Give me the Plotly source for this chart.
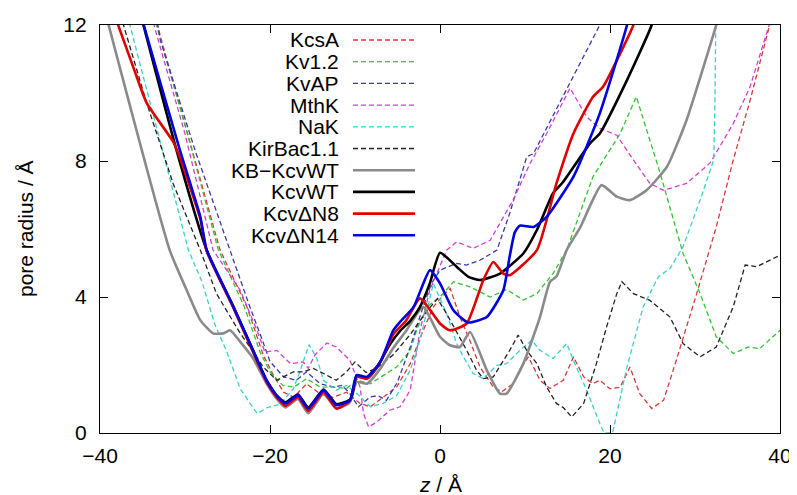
import plotly.graph_objects as go

# ---------------- data (z in Å, pore radius in Å) ----------------
kcsa_z = [-33.6, -29.5, -25.9, -22.7, -20.8, -19.6, -18.4, -17.2, -15.7, -14.1, -12.6, -11.0, -9.4, -8.2, -6.7, -5.1, -3.5, -2.0, -0.8, 0.2, 1.2, 2.35, 3.5, 4.7, 6.27, 7.25, 8.6, 9.5, 10.4, 11.76, 12.94, 14.5, 15.7, 16.9, 18.0, 18.8, 20.0, 21.2, 22.35, 23.5, 24.9, 26.3, 27.8, 30.2, 32.5, 34.5, 36.5, 38.8, 39.1]
kcsa_r = [12.3, 8.6, 5.4, 3.7, 2.3, 1.7, 1.2, 1.05, 1.45, 1.15, 1.05, 1.2, 0.87, 0.77, 1.06, 1.35, 2.04, 3.0, 3.7, 4.0, 4.25, 3.41, 2.73, 1.94, 1.35, 1.21, 1.45, 1.9, 2.24, 1.55, 1.31, 1.55, 2.24, 1.65, 1.45, 1.55, 1.3, 1.35, 1.94, 1.16, 0.72, 0.96, 2.14, 4.1, 6.06, 8.03, 9.8, 12.0, 12.3]

kv12_z = [-33.7, -29.6, -26.1, -23.0, -21.2, -20.0, -18.5, -17.2, -15.7, -14.1, -12.6, -11.0, -9.8, -8.2, -6.3, -5.1, -3.5, -2.75, -1.6, 0.0, 1.6, 3.53, 5.9, 7.84, 9.8, 11.4, 13.3, 14.9, 18.0, 21.2, 23.1, 25.9, 28.6, 30.6, 32.5, 34.5, 36.3, 37.6, 40.0]
kv12_r = [12.3, 8.7, 5.4, 3.7, 2.4, 1.8, 1.4, 1.35, 1.6, 1.35, 1.35, 1.31, 1.55, 1.45, 1.75, 1.94, 2.43, 3.02, 3.7, 4.0, 4.45, 4.3, 4.0, 4.22, 3.91, 4.1, 4.69, 5.38, 7.54, 8.81, 9.89, 7.64, 5.28, 4.1, 2.83, 2.34, 2.53, 2.48, 3.02]

kvap_z = [-33.4, -32.9, -28.8, -24.7, -22.5, -21.0, -20.0, -18.4, -16.9, -15.7, -14.1, -12.55, -11.5, -10.6, -9.6, -8.2, -7.3, -6.3, -5.0, -3.5, -2.0, -1.0, 0.0, 1.96, 3.1, 4.7, 6.7, 8.2, 10.2, 11.0, 18.8, 19.1]
kvap_r = [12.3, 11.55, 8.3, 5.38, 3.8, 2.8, 2.1, 1.65, 1.55, 1.8, 1.45, 1.35, 1.4, 1.16, 0.77, 1.06, 1.1, 0.96, 1.5, 2.53, 3.7, 4.4, 4.79, 4.99, 4.94, 5.08, 5.38, 6.46, 8.12, 8.22, 12.0, 12.3]

mthk_z = [-34.0, -30.0, -26.7, -23.5, -21.5, -20.6, -19.2, -17.6, -16.1, -15.5, -14.7, -13.3, -12.2, -10.6, -9.4, -9.0, -8.4, -7.45, -5.9, -4.7, -3.5, -2.35, -1.2, 0.0, 0.78, 1.96, 3.9, 5.9, 8.6, 10.6, 12.55, 15.3, 17.25, 18.8, 20.8, 22.75, 24.7, 26.3, 29.0, 31.8, 34.5, 36.5, 38.8, 39.1]
mthk_r = [12.3, 8.8, 5.38, 4.2, 3.0, 2.38, 2.43, 2.04, 2.09, 1.9, 2.3, 2.65, 2.53, 2.14, 1.35, 0.57, 0.18, 0.32, 0.67, 0.77, 1.26, 3.02, 4.2, 4.89, 5.38, 5.62, 5.43, 5.67, 6.85, 7.93, 8.81, 10.14, 9.3, 8.96, 8.76, 8.03, 7.34, 7.14, 7.34, 7.95, 9.1, 10.2, 12.0, 12.3]

nak_z = [-36.8, -29.6, -28.0, -26.5, -25.1, -23.5, -22.3, -21.5, -20.3, -18.8, -17.25, -16.5, -15.4, -14.5, -13.7, -12.2, -11.0, -9.5, -8.2, -6.7, -5.1, -3.5, -2.35, -1.5, -0.78, 0.78, 1.96, 2.75, 3.9, 5.1, 6.67, 7.84, 9.4, 10.8, 11.76, 13.3, 14.9, 15.7, 17.25, 18.8, 19.3, 20.3, 22.0, 23.9, 25.7, 27.06, 28.6, 30.6, 32.2, 32.35, 32.45]
nak_r = [12.3, 5.38, 4.45, 3.2, 2.4, 1.3, 0.85, 0.57, 0.75, 0.85, 1.3, 1.8, 2.6, 2.2, 1.55, 1.26, 1.4, 1.1, 0.77, 0.87, 1.1, 1.85, 2.73, 3.6, 4.4, 3.51, 2.63, 2.24, 1.75, 1.6, 1.99, 2.04, 2.43, 2.73, 2.43, 2.19, 2.63, 2.14, 1.26, 0.28, 0.0, 0.0, 1.94, 3.71, 4.6, 4.84, 5.48, 6.85, 8.03, 9.8, 12.3]

kirbac_z = [-37.6, -34.5, -31.4, -28.2, -26.3, -23.5, -22.0, -20.8, -19.2, -18.4, -17.25, -16.1, -14.9, -13.7, -12.2, -11.0, -10.0, -8.7, -7.5, -5.5, -3.5, -1.5, -0.3, 0.8, 1.76, 3.14, 4.3, 5.1, 6.27, 8.2, 9.2, 10.2, 11.4, 12.55, 13.7, 14.5, 15.5, 16.9, 18.4, 19.6, 20.8, 21.4, 22.75, 24.7, 27.06, 28.6, 30.6, 32.5, 34.5, 35.9, 37.25, 40.0]
kirbac_r = [12.3, 9.7, 7.34, 5.38, 4.1, 2.93, 2.4, 1.94, 1.55, 1.65, 1.8, 1.8, 1.9, 1.75, 1.55, 1.8, 2.09, 1.78, 1.9, 2.3, 2.9, 3.6, 3.95, 3.5, 3.07, 2.43, 1.85, 1.6, 1.65, 2.43, 2.88, 2.43, 2.04, 1.35, 0.87, 0.75, 0.47, 0.87, 2.04, 3.12, 4.1, 4.45, 4.1, 3.9, 3.41, 2.63, 2.24, 2.53, 3.71, 4.94, 4.89, 5.23]

kbkcv_z = [-39.3, -31.8, -29.8, -28.2, -26.7, -25.5, -24.7, -23.5, -22.0, -20.4, -19.2, -18.2, -16.7, -15.5, -13.7, -12.2, -10.6, -9.8, -8.6, -7.0, -5.5, -4.0, -2.0, 0.0, 1.18, 2.35, 3.53, 5.5, 7.06, 7.84, 9.8, 11.76, 12.94, 13.7, 14.9, 16.5, 19.0, 20.8, 22.35, 24.3, 26.7, 29.0, 32.5, 32.8]
kbkcv_r = [12.3, 5.38, 4.2, 3.32, 2.93, 2.93, 3.02, 2.68, 2.2, 1.45, 1.0, 0.75, 1.0, 0.58, 1.15, 0.72, 0.9, 1.5, 1.45, 1.9, 2.5, 3.0, 3.71, 2.83, 2.58, 2.53, 2.97, 1.85, 1.16, 1.16, 2.04, 3.41, 4.45, 4.6, 5.38, 6.05, 7.29, 6.95, 6.85, 7.14, 7.83, 9.2, 12.0, 12.3]

kcvwt_z = [-35.2, -31.0, -27.45, -24.3, -22.0, -20.4, -19.2, -18.2, -16.7, -15.5, -13.7, -12.2, -10.5, -9.8, -8.6, -7.5, -5.9, -4.7, -3.5, -2.35, -1.2, 0.0, 1.96, 3.3, 4.7, 7.06, 9.8, 11.4, 13.3, 14.5, 17.65, 18.8, 22.0, 24.9, 25.1]
kcvwt_r = [12.3, 8.32, 5.38, 3.71, 2.43, 1.55, 1.1, 0.9, 1.13, 0.75, 1.28, 0.85, 1.0, 1.7, 1.6, 1.9, 2.6, 3.0, 3.3, 3.71, 4.4, 5.3, 4.89, 4.6, 4.5, 4.69, 5.28, 5.97, 7.05, 7.39, 8.52, 8.81, 10.38, 12.0, 12.3]

kcvn8_z = [-38.3, -36.1, -34.5, -31.4, -30.6, -28.2, -27.45, -24.3, -22.0, -20.4, -19.2, -18.2, -16.7, -15.5, -13.7, -12.2, -10.6, -9.8, -8.6, -7.0, -5.5, -4.0, -2.35, 0.0, 1.18, 3.14, 5.1, 6.27, 7.45, 8.2, 11.4, 13.7, 15.7, 18.0, 19.2, 22.75, 23.0]
kcvn8_r = [12.3, 10.77, 9.7, 8.57, 8.1, 6.3, 5.35, 3.68, 2.38, 1.5, 1.05, 0.8, 1.05, 0.65, 1.2, 0.72, 0.95, 1.65, 1.6, 2.1, 2.9, 3.3, 3.96, 3.22, 3.02, 3.22, 4.5, 5.03, 4.69, 4.64, 5.38, 7.34, 8.81, 9.89, 10.19, 12.0, 12.3]

kcvn14_z = [-35.2, -32.9, -30.6, -28.2, -27.45, -24.3, -22.0, -20.4, -19.2, -18.2, -16.7, -15.5, -13.7, -12.2, -10.6, -9.8, -8.6, -7.0, -5.5, -4.7, -3.1, -1.18, 0.0, 1.57, 3.3, 5.5, 7.45, 8.2, 8.8, 9.4, 11.0, 12.55, 15.7, 18.8, 22.0, 22.2]
kcvn14_r = [12.3, 10.3, 8.32, 6.36, 5.38, 3.71, 2.43, 1.55, 1.1, 0.87, 1.11, 0.72, 1.26, 0.82, 0.96, 1.7, 1.65, 2.1, 3.02, 3.27, 3.71, 4.79, 4.4, 3.61, 3.25, 3.41, 4.2, 5.2, 5.9, 6.1, 6.06, 6.36, 7.54, 9.4, 12.0, 12.3]

names = ["KcsA", "Kv1.2", "KvAP", "MthK", "NaK", "KirBac1.1",
         "KB\u2212KcvWT", "KcvWT", "Kcv\u0394N8", "Kcv\u0394N14"]
series = [(kcsa_z, kcsa_r), (kv12_z, kv12_r), (kvap_z, kvap_r), (mthk_z, mthk_r),
          (nak_z, nak_r), (kirbac_z, kirbac_r), (kbkcv_z, kbkcv_r),
          (kcvwt_z, kcvwt_r), (kcvn8_z, kcvn8_r), (kcvn14_z, kcvn14_r)]

# ---------------- styles ----------------
colors = ["#d23c3c", "#33c433", "#3a3aae", "#d23fd2", "#3ad0d0", "#222222",
          "#8a8a8a", "#000000", "#e00000", "#0000e0"]
dashes = ["5px,3px"] * 6 + ["solid"] * 4
widths = [1.3] * 6 + [2.6] * 4

FONT = "Liberation Sans, Arial, Helvetica, sans-serif"

fig = go.Figure()
for (z, r), name, c, d, w in zip(series, names, colors, dashes, widths):
    fig.add_trace(go.Scatter(
        x=z, y=r, mode="lines", name=name, showlegend=False,
        line=dict(color=c, dash=d, width=w,
                  shape="spline" if d == "solid" else "linear",
                  smoothing=0.5 if d == "solid" else 0),
        hoverinfo="skip"))

# ---------------- gnuplot-style key (text right, sample right of text) ----------------
PLOT_H = 408.0
PLOT_W = 680.0
key_top_px = 40.0
key_step_px = 21.7
for i, (name, c, d, w) in enumerate(zip(names, colors, dashes, widths)):
    yp = 1.0 - (key_top_px - 25 + i * key_step_px) / PLOT_H
    fig.add_annotation(x=(341 - 100) / PLOT_W, y=yp, xref="paper", yref="paper",
                       text=name, showarrow=False, xanchor="right", yanchor="middle",
                       font=dict(family=FONT, size=21, color="black"))
    fig.add_shape(type="line", xref="paper", yref="paper",
                  x0=(353 - 100) / PLOT_W, x1=(415 - 100) / PLOT_W, y0=yp, y1=yp,
                  line=dict(color=c, dash=d, width=w))

# axis titles
fig.add_annotation(x=0.5, y=0, xref="paper", yref="paper", yshift=-38,
                   text="<i>z</i> / Å", showarrow=False, xanchor="center", yanchor="top",
                   font=dict(family=FONT, size=21, color="black"))
fig.add_annotation(x=0, y=0.5, xref="paper", yref="paper", xshift=-75,
                   text="pore radius / Å", showarrow=False, textangle=-90,
                   xanchor="center", yanchor="middle",
                   font=dict(family=FONT, size=21, color="black"))

axis_common = dict(showgrid=False, zeroline=False, showline=True, linecolor="black",
                   linewidth=1.2, mirror="allticks", ticks="inside", ticklen=8,
                   tickwidth=1.2, tickcolor="black", automargin=False,
                   tickfont=dict(family=FONT, size=21, color="black"))
fig.update_xaxes(range=[-40, 40], tickmode="linear", tick0=-40, dtick=20,
                 ticklabelstandoff=4, **axis_common)
fig.update_yaxes(range=[0, 12], tickmode="linear", tick0=0, dtick=4,
                 ticklabelstandoff=8, **axis_common)

# the page adds an 8 px body margin, so the figure is sized 8 px smaller
fig.update_layout(width=789, height=487,
                  margin=dict(l=92, r=17, t=17, b=62, autoexpand=False),
                  paper_bgcolor="white", plot_bgcolor="white",
                  font=dict(family=FONT, size=21, color="black"))

fig.write_html("out.html")
